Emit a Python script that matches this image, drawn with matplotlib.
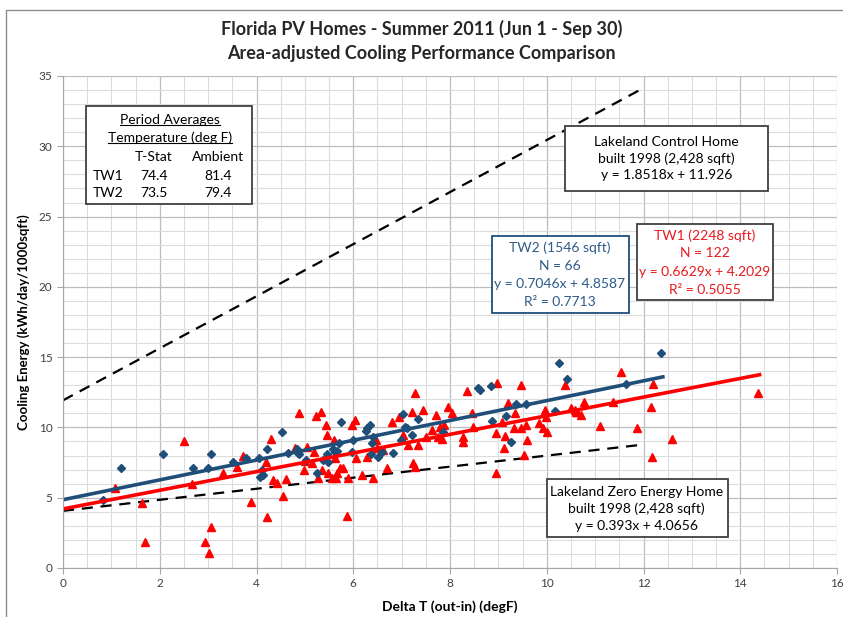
import numpy as np
import matplotlib.pyplot as plt
from matplotlib.patches import Rectangle

plt.rcParams['font.family'] = ['Lato', 'DejaVu Sans']

# TW2 (1546 sqft) - blue diamonds
tw2_x = [0.83, 1.20, 2.07, 2.69, 3.00, 3.06, 3.51, 3.78, 4.05, 4.11, 4.07, 4.13, 4.21, 4.52, 4.65,
         4.83, 4.86, 4.88, 5.02, 5.25, 5.37, 5.45, 5.48, 5.58, 5.62, 5.66, 5.74, 5.70, 5.99, 5.97,
         6.26, 6.28, 6.34, 6.40, 6.38, 6.36, 6.51, 6.59, 6.82, 6.98, 7.02, 7.07, 7.11, 7.21, 7.33,
         7.85, 8.57, 8.62, 8.84, 8.86, 9.15, 9.26, 9.36, 9.57, 10.17, 10.25, 10.41, 11.63, 12.36]
tw2_y = [4.83, 7.10, 8.09, 7.10, 7.10, 8.09, 7.52, 7.81, 7.81, 6.96, 6.46, 6.60, 8.45, 9.65, 8.16,
         8.45, 8.16, 8.09, 7.67, 6.74, 7.67, 8.09, 7.52, 8.45, 8.23, 8.30, 10.36, 8.87, 9.08, 8.23,
         9.72, 9.94, 10.15, 9.30, 8.87, 8.09, 7.88, 8.23, 8.16, 9.08, 10.93, 10.01, 9.94, 9.44, 10.57,
         9.65, 12.78, 12.63, 12.92, 10.43, 10.79, 8.94, 11.64, 11.64, 11.14, 14.55, 13.41, 13.06, 15.26]

# TW1 (2248 sqft) - red triangles
tw1_x = [1.07, 1.63, 1.69, 2.50, 2.67, 2.93, 3.02, 3.06, 3.31, 3.60, 3.72, 3.88, 4.19, 4.21, 4.30,
         4.34, 4.42, 4.55, 4.61, 4.79, 4.88, 5.04, 5.00, 4.98, 5.14, 5.23, 5.27, 5.33, 5.43, 5.45,
         5.60, 5.62, 5.19, 5.35, 5.48, 5.56, 5.64, 5.66, 5.72, 5.79, 5.89, 5.97, 6.03, 6.05, 6.18,
         6.28, 6.40, 6.47, 6.49, 6.61, 6.69, 6.80, 6.94, 7.02, 7.13, 7.21, 7.23, 7.27, 7.27, 7.33,
         7.44, 7.50, 7.62, 7.71, 7.75, 7.79, 7.95, 5.87, 8.97, 9.46, 8.35, 8.04, 8.45, 9.19, 9.07,
         8.26, 8.95, 9.13, 9.32, 9.46, 9.11, 9.59, 9.52, 8.95, 9.96, 9.83, 10.00, 9.34, 9.57, 8.26,
         8.47, 7.87, 7.83, 9.98, 9.92, 10.50, 10.60, 10.37, 10.58, 10.62, 10.70, 10.76, 11.36, 11.53,
         11.10, 12.19, 12.15, 11.86, 12.58, 12.17, 14.36]
tw1_y = [5.68, 4.61, 1.85, 9.01, 5.96, 1.85, 1.06, 2.91, 6.74, 7.17, 7.95, 4.68, 7.52, 3.62, 9.16,
         6.25, 6.03, 5.11, 6.32, 8.52, 11.00, 8.59, 7.59, 6.96, 7.45, 10.79, 6.39, 11.07, 10.15, 9.44,
         9.08, 7.81, 8.23, 6.96, 6.74, 6.39, 6.39, 6.74, 7.10, 7.10, 6.39, 10.15, 10.50, 7.81, 6.60,
         7.88, 6.39, 9.08, 8.52, 8.37, 7.10, 10.36, 10.72, 9.44, 8.73, 11.07, 7.45, 7.17, 12.42, 8.73,
         11.21, 9.30, 9.79, 10.86, 9.30, 10.01, 11.43, 3.69, 13.13, 12.99, 12.56, 11.00, 11.00, 11.71, 10.36,
         9.30, 9.58, 9.37, 9.94, 9.94, 8.52, 9.08, 8.02, 6.74, 11.21, 10.29, 9.65, 11.00, 10.15, 8.94,
         10.01, 10.15, 9.16, 10.72, 9.94, 11.36, 11.07, 12.99, 11.21, 11.07, 10.86, 11.78, 11.78, 13.91,
         10.08, 13.06, 11.43, 9.94, 9.16, 7.88, 12.42]

# trend lines: slope, intercept, x end
tw2_fit = [0.7046, 4.8587, 12.4]
tw1_fit = [0.6629, 4.2029, 14.4]
control_fit = [1.8518, 11.926, 12.0]
zero_fit = [0.393, 4.0656, 12.0]

blue = '#1F4E79'
red = '#FF0000'

fig = plt.figure(figsize=(8.43, 6.17), dpi=100)
ax = fig.add_axes([63/843, 1-568/617, (837-63)/843, (568-76)/617])

ax.set_xlim(0, 16)
ax.set_ylim(0, 35)
ax.set_xticks(np.arange(0, 17, 2))
ax.set_yticks(np.arange(0, 36, 5))
ax.set_xticks(np.arange(0, 16.1, 0.5), minor=True)
ax.set_yticks(np.arange(0, 35.1, 1), minor=True)
ax.grid(which='major', color='#BDBDBD', lw=0.9)
ax.grid(which='minor', color='#DCDCDC', lw=0.8)
ax.set_axisbelow(True)
for s in ['top', 'right']:
    ax.spines[s].set_visible(False)
for s in ['left', 'bottom']:
    ax.spines[s].set_color('#A6A6A6')
ax.tick_params(which='major', length=4, color='#A6A6A6', labelsize=8.5, labelcolor='#404040')
ax.tick_params(which='minor', length=0)

def trend(fit, **kw):
    xs = np.array([0, fit[2]])
    ax.plot(xs, fit[0]*xs + fit[1], **kw)

trend(control_fit, color='black', lw=1.6, ls=(0, (5, 3.5)))
trend(zero_fit, color='black', lw=1.6, ls=(0, (5, 3.5)))

ax.plot(tw1_x, tw1_y, '^', color=red, ms=6, mec=red, ls='none')
ax.plot(tw2_x, tw2_y, 'D', color=blue, ms=4.5, mec=blue, ls='none')
trend(tw2_fit, color=blue, lw=2.6)
trend(tw1_fit, color=red, lw=2.6)

ax.set_xlabel('Delta T (out-in) (degF)', fontsize=10, fontweight='bold', labelpad=8)
ax.set_ylabel('Cooling Energy (kWh/day/1000sqft)', fontsize=9.5, fontweight='bold', labelpad=6)

fig.text(0.5, 1-29/617, 'Florida PV Homes - Summer 2011 (Jun 1 - Sep 30)', ha='center', va='center',
         fontsize=13, fontweight='bold', color='#262626')
fig.text(0.5, 1-53/617, 'Area-adjusted Cooling Performance Comparison', ha='center', va='center',
         fontsize=13, fontweight='bold', color='#262626')

def box(x0, x1, y0, y1, ec):
    ax.add_patch(Rectangle((x0, y0), x1-x0, y1-y0, fc='white', ec=ec, lw=1.3, zorder=5))

# period averages box
box(0.475, 3.90, 25.9, 32.86, '#404040')
tk = dict(fontsize=10, color='black', zorder=6, va='center')
t1 = ax.text(2.21, 31.87, 'Period Averages', ha='center', **tk)
t2 = ax.text(2.21, 30.59, 'Temperature (deg F)', ha='center', **tk)
ax.text(1.88, 29.24, 'T-Stat', ha='center', **tk)
ax.text(3.2, 29.24, 'Ambient', ha='center', **tk)
ax.text(0.62, 27.89, 'TW1', ha='left', **tk)
ax.text(1.88, 27.89, '74.4', ha='center', **tk)
ax.text(3.2, 27.89, '81.4', ha='center', **tk)
ax.text(0.62, 26.69, 'TW2', ha='left', **tk)
ax.text(1.88, 26.69, '73.5', ha='center', **tk)
ax.text(3.2, 26.69, '79.4', ha='center', **tk)

# control home box
box(10.37, 14.57, 26.83, 31.44, '#404040')
ax.text(12.48, 29.13, 'Lakeland Control Home\nbuilt 1998 (2,428 sqft)\ny = 1.8518x + 11.926',
        ha='center', linespacing=1.45, **tk)

# TW2 box
box(8.86, 11.69, 18.17, 23.63, blue)
for yy, s in zip([22.78, 21.5, 20.23, 18.95], ['TW2 (1546 sqft)', 'N = 66', 'y = 0.7046x + 4.8587', 'R² = 0.7713']):
    ax.text(10.27, yy, s, ha='center', va='center', fontsize=10, color='#2E5A88', zorder=6)

# TW1 box
box(11.86, 14.67, 19.09, 24.49, '#404040')
for yy, s in zip([23.63, 22.43, 21.08, 19.8], ['TW1 (2248 sqft)', 'N = 122', 'y = 0.6629x + 4.2029', 'R² = 0.5055']):
    ax.text(13.26, yy, s, ha='center', va='center', fontsize=10, color='#E8191C', zorder=6)

# zero energy home box
box(10.0, 13.74, 2.2, 6.32, '#404040')
ax.text(11.86, 4.19, 'Lakeland Zero Energy Home\nbuilt 1998 (2,428 sqft)\ny = 0.393x + 4.0656',
        ha='center', linespacing=1.45, **tk)

# underline the header lines of the period box
fig.canvas.draw()
r = fig.canvas.get_renderer()
inv = ax.transData.inverted()
for t in [t1, t2]:
    bb = t.get_window_extent(r)
    (xa, ya), (xb, yb) = inv.transform([(bb.x0, bb.y0 + 1), (bb.x1, bb.y0 + 1)])
    ax.plot([xa, xb], [ya, yb], color='black', lw=0.8, zorder=6)

fig.patches.append(Rectangle((6/843, -0.1), 1.2, 1.1 - 10/617, transform=fig.transFigure,
                             fill=False, ec='#8C8C8C', lw=1.0))

fig.savefig('out.png', dpi=100)
